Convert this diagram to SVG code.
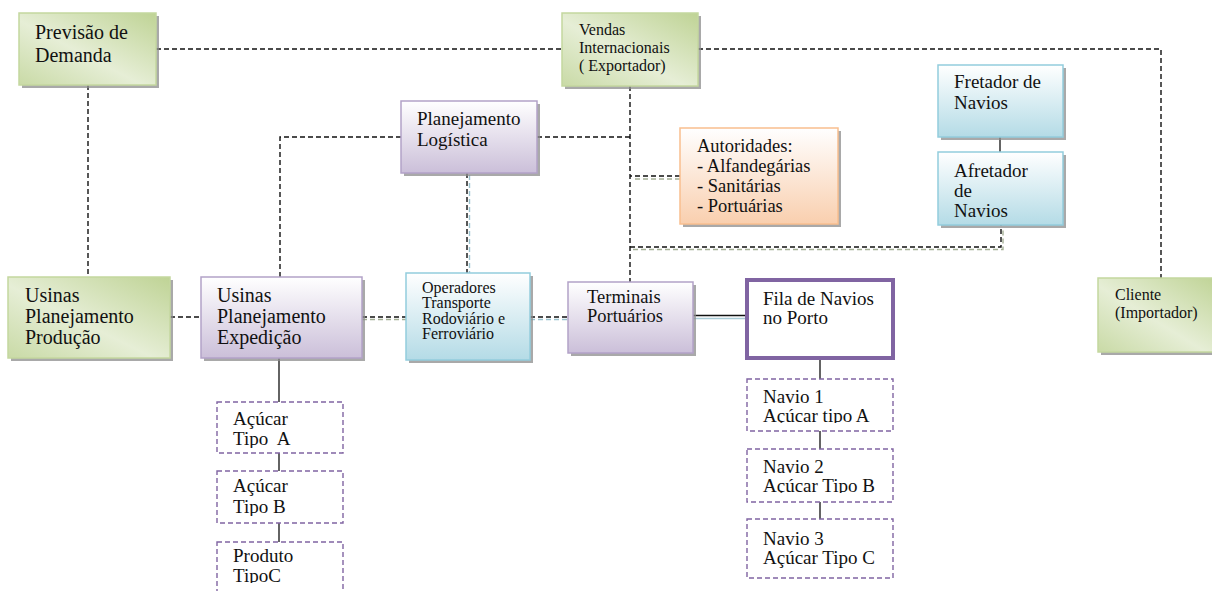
<svg xmlns="http://www.w3.org/2000/svg" width="1212" height="591" viewBox="0 0 1212 591">
  <defs>
    <linearGradient id="gGreen" x1="1" y1="0" x2="0" y2="1">
      <stop offset="0" stop-color="#bfd395"/>
      <stop offset="0.55" stop-color="#e6eed6"/>
      <stop offset="1" stop-color="#c9daa6"/>
    </linearGradient>
    <linearGradient id="gPurple" x1="0" y1="0" x2="0" y2="1">
      <stop offset="0" stop-color="#ffffff"/>
      <stop offset="1" stop-color="#cbbfd9"/>
    </linearGradient>
    <linearGradient id="gBlue" x1="0" y1="0" x2="0" y2="1">
      <stop offset="0" stop-color="#ffffff"/>
      <stop offset="1" stop-color="#b4dbe6"/>
    </linearGradient>
    <linearGradient id="gOrange" x1="0" y1="0" x2="0" y2="1">
      <stop offset="0" stop-color="#ffffff"/>
      <stop offset="1" stop-color="#f9cfae"/>
    </linearGradient>
    <clipPath id="cA"><rect x="217" y="402" width="126" height="46"/></clipPath>
    <clipPath id="cB"><rect x="217" y="471" width="126" height="45"/></clipPath>
    <clipPath id="cC"><rect x="217" y="542" width="126" height="41"/></clipPath>
    <clipPath id="cN1"><rect x="747" y="379" width="146" height="44"/></clipPath>
    <clipPath id="cN2"><rect x="747" y="449" width="146" height="44"/></clipPath>
  </defs>
  <style>
    .shadow { fill: #8c8c8c; opacity: 0.75; }
    .green { fill: url(#gGreen); stroke: #c4d79f; stroke-width: 1.5; }
    .purple { fill: url(#gPurple); stroke: #b3a2c8; stroke-width: 1.5; }
    .blue { fill: url(#gBlue); stroke: #93cddd; stroke-width: 1.5; }
    .orange { fill: url(#gOrange); stroke: #f9bf8f; stroke-width: 1.5; }
    .dash { fill: none; stroke: #111; stroke-width: 1.4; stroke-dasharray: 5 3; }
    .dashGhost { fill: none; stroke: #a5b096; stroke-width: 1.4; stroke-dasharray: 5 3; }
    .dashGhostBlue { fill: none; stroke: #9bc3cf; stroke-width: 1.4; stroke-dasharray: 5 3; }
    .solid { fill: none; stroke: #111; stroke-width: 1.3; }
    .product { fill: #ffffff; stroke: #8064a2; stroke-width: 1.4; stroke-dasharray: 5 3; }
  </style>

  <g id="connectors">
    <!-- demand forecast to sales -->
    <path class="dash" d="M156 49 H562"/>
    <!-- sales to client -->
    <path class="dash" d="M698 49 H1161 V278"/>
    <!-- forecast down to production planning -->
    <path class="dash" d="M88 85 V277"/>
    <!-- production planning to dispatch planning -->
    <path class="dash" d="M170 317 H201"/>
    <!-- logistics planning to dispatch planning -->
    <path class="dash" d="M401 137 H280 V277"/>
    <!-- logistics planning to sales trunk -->
    <path class="dash" d="M537 137 H630"/>
    <!-- sales trunk down to port terminals -->
    <path class="dash" d="M630 86 V282"/>
    <!-- authorities branch -->
    <path class="dashGhost" d="M680 179 H633"/>
    <path class="dash" d="M680 176 H630"/>
    <!-- charterer branch -->
    <path class="dashGhost" d="M633 249.5 H1003 V228"/>
    <path class="dash" d="M630 247 H1001 V225"/>
    <!-- logistics planning to transport operators -->
    <path class="dashGhostBlue" d="M469.5 175 V273"/>
    <path class="dash" d="M467 173 V273"/>
    <!-- dispatch planning to transport operators -->
    <path class="dashGhost" d="M362 319.5 H406"/>
    <path class="dash" d="M362 317 H406"/>
    <!-- transport operators to port terminals -->
    <path class="dashGhostBlue" d="M530 319.5 H568"/>
    <path class="dash" d="M530 317 H568"/>
    <!-- port terminals to ship queue -->
    <path fill="none" stroke="#a9cbd6" stroke-width="1.5" d="M693 318.5 H745"/>
    <path class="solid" d="M693 315.5 H745"/>
    <!-- ship owner to charterer -->
    <path class="solid" d="M1000 137 V152"/>
    <!-- product stack -->
    <path class="solid" d="M279 358 V402 M279 453 V471 M279 523 V542"/>
    <!-- ship stack -->
    <path class="solid" d="M820 360 V379 M820 431 V449 M820 502 V519"/>
  </g>

  <g id="previsao-demanda">
    <rect class="shadow" x="22" y="16" width="137" height="72"/>
    <rect class="green" x="19" y="13" width="137" height="72"/>
    <text font-family="Liberation Serif" font-size="20" fill="#111" x="35" y="39">Previsão de</text>
    <text font-family="Liberation Serif" font-size="20" fill="#111" x="35" y="62">Demanda</text>
  </g>

  <g id="vendas-internacionais">
    <rect class="shadow" x="565" y="16" width="136" height="73"/>
    <rect class="green" x="562" y="13" width="136" height="73"/>
    <text font-family="Liberation Serif" font-size="16" fill="#111" x="579" y="35">Vendas</text>
    <text font-family="Liberation Serif" font-size="16" fill="#111" x="579" y="53">Internacionais</text>
    <text font-family="Liberation Serif" font-size="16" fill="#111" x="579" y="71">( Exportador)</text>
  </g>

  <g id="planejamento-logistica">
    <rect class="shadow" x="404" y="104" width="136" height="72"/>
    <rect class="purple" x="401" y="101" width="136" height="72"/>
    <text font-family="Liberation Serif" font-size="19" fill="#111" x="417" y="125">Planejamento</text>
    <text font-family="Liberation Serif" font-size="19" fill="#111" x="417" y="146">Logística</text>
  </g>

  <g id="autoridades">
    <rect class="shadow" x="683" y="131" width="158" height="96"/>
    <rect class="orange" x="680" y="128" width="158" height="96"/>
    <text font-family="Liberation Serif" font-size="18.5" fill="#111" x="697" y="152">Autoridades:</text>
    <text font-family="Liberation Serif" font-size="18.5" fill="#111" x="697" y="172">- Alfandegárias</text>
    <text font-family="Liberation Serif" font-size="18.5" fill="#111" x="697" y="192">- Sanitárias</text>
    <text font-family="Liberation Serif" font-size="18.5" fill="#111" x="697" y="212">- Portuárias</text>
  </g>

  <g id="fretador-navios">
    <rect class="shadow" x="941" y="68" width="125" height="72"/>
    <rect class="blue" x="938" y="65" width="125" height="72"/>
    <text font-family="Liberation Serif" font-size="19" fill="#111" x="954" y="88">Fretador de</text>
    <text font-family="Liberation Serif" font-size="19" fill="#111" x="954" y="109">Navios</text>
  </g>

  <g id="afretador-navios">
    <rect class="shadow" x="941" y="155" width="125" height="73"/>
    <rect class="blue" x="938" y="152" width="125" height="73"/>
    <text font-family="Liberation Serif" font-size="19" fill="#111" x="954" y="177">Afretador</text>
    <text font-family="Liberation Serif" font-size="19" fill="#111" x="954" y="197">de</text>
    <text font-family="Liberation Serif" font-size="19" fill="#111" x="954" y="217">Navios</text>
  </g>

  <g id="cliente">
    <rect class="shadow" x="1101" y="281" width="120" height="74"/>
    <rect class="green" x="1098" y="278" width="120" height="74"/>
    <text font-family="Liberation Serif" font-size="16" fill="#111" x="1115" y="300">Cliente</text>
    <text font-family="Liberation Serif" font-size="16" fill="#111" x="1115" y="318">(Importador)</text>
  </g>

  <g id="usinas-producao">
    <rect class="shadow" x="11" y="280" width="162" height="81"/>
    <rect class="green" x="8" y="277" width="162" height="81"/>
    <text font-family="Liberation Serif" font-size="20" fill="#111" x="25" y="302">Usinas</text>
    <text font-family="Liberation Serif" font-size="20" fill="#111" x="25" y="323">Planejamento</text>
    <text font-family="Liberation Serif" font-size="20" fill="#111" x="25" y="344">Produção</text>
  </g>

  <g id="usinas-expedicao">
    <rect class="shadow" x="204" y="280" width="161" height="81"/>
    <rect class="purple" x="201" y="277" width="161" height="81"/>
    <text font-family="Liberation Serif" font-size="20" fill="#111" x="217" y="302">Usinas</text>
    <text font-family="Liberation Serif" font-size="20" fill="#111" x="217" y="323">Planejamento</text>
    <text font-family="Liberation Serif" font-size="20" fill="#111" x="217" y="344">Expedição</text>
  </g>

  <g id="operadores-transporte">
    <rect class="shadow" x="409" y="276" width="124" height="87"/>
    <rect class="blue" x="406" y="273" width="124" height="87"/>
    <text font-family="Liberation Serif" font-size="16" fill="#111" x="422" y="293">Operadores</text>
    <text font-family="Liberation Serif" font-size="16" fill="#111" x="422" y="308">Transporte</text>
    <text font-family="Liberation Serif" font-size="16" fill="#111" x="422" y="324">Rodoviário e</text>
    <text font-family="Liberation Serif" font-size="16" fill="#111" x="422" y="339">Ferroviário</text>
  </g>

  <g id="terminais-portuarios">
    <rect class="shadow" x="571" y="285" width="125" height="71"/>
    <rect class="purple" x="568" y="282" width="125" height="71"/>
    <text font-family="Liberation Serif" font-size="18.5" fill="#111" x="587" y="303">Terminais</text>
    <text font-family="Liberation Serif" font-size="18.5" fill="#111" x="587" y="322">Portuários</text>
  </g>

  <g id="fila-navios">
    <rect x="747" y="280" width="146" height="78" fill="#ffffff" stroke="#8064a2" stroke-width="4"/>
    <text font-family="Liberation Serif" font-size="19" fill="#111" x="763" y="305">Fila de Navios</text>
    <text font-family="Liberation Serif" font-size="19" fill="#111" x="763" y="324">no Porto</text>
  </g>

  <g id="acucar-tipo-a">
    <rect class="product" x="217" y="402" width="126" height="51"/>
    <g clip-path="url(#cA)">
      <text font-family="Liberation Serif" font-size="19" fill="#111" x="233" y="425">Açúcar</text>
      <text font-family="Liberation Serif" font-size="19" fill="#111" x="233" y="445" xml:space="preserve">Tipo  A</text>
    </g>
  </g>

  <g id="acucar-tipo-b">
    <rect class="product" x="217" y="471" width="126" height="52"/>
    <g clip-path="url(#cB)">
      <text font-family="Liberation Serif" font-size="19" fill="#111" x="233" y="492">Açúcar</text>
      <text font-family="Liberation Serif" font-size="19" fill="#111" x="233" y="513">Tipo B</text>
    </g>
  </g>

  <g id="produto-tipo-c">
    <rect class="product" x="217" y="542" width="126" height="60"/>
    <g clip-path="url(#cC)">
      <text font-family="Liberation Serif" font-size="19" fill="#111" x="233" y="562">Produto</text>
      <text font-family="Liberation Serif" font-size="19" fill="#111" x="233" y="582">TipoC</text>
    </g>
  </g>

  <g id="navio-1">
    <rect class="product" x="747" y="379" width="146" height="52"/>
    <g clip-path="url(#cN1)">
      <text font-family="Liberation Serif" font-size="19" fill="#111" x="763" y="403">Navio 1</text>
      <text font-family="Liberation Serif" font-size="19" fill="#111" x="763" y="422">Açúcar tipo A</text>
    </g>
  </g>

  <g id="navio-2">
    <rect class="product" x="747" y="449" width="146" height="53"/>
    <g clip-path="url(#cN2)">
      <text font-family="Liberation Serif" font-size="19" fill="#111" x="763" y="473">Navio 2</text>
      <text font-family="Liberation Serif" font-size="19" fill="#111" x="763" y="492">Açúcar Tipo B</text>
    </g>
  </g>

  <g id="navio-3">
    <rect class="product" x="747" y="519" width="146" height="59"/>
    <text font-family="Liberation Serif" font-size="19" fill="#111" x="763" y="545">Navio 3</text>
    <text font-family="Liberation Serif" font-size="19" fill="#111" x="763" y="564">Açúcar Tipo C</text>
  </g>
</svg>
